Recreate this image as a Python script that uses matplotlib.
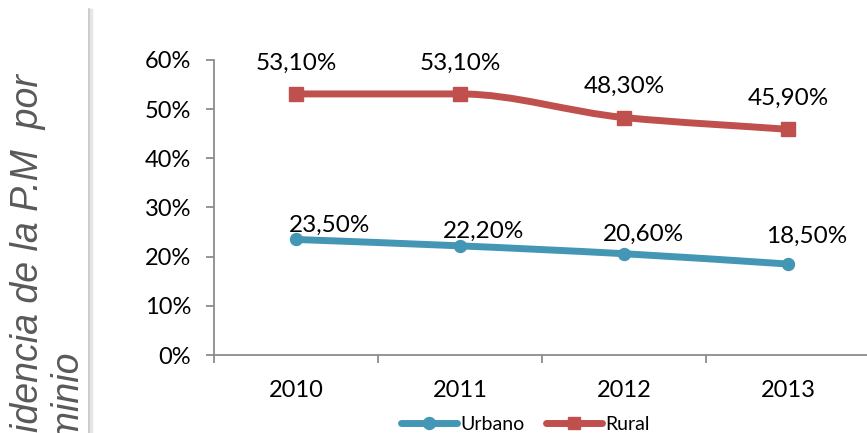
import matplotlib
matplotlib.use("Agg")
import matplotlib.pyplot as plt
from matplotlib.lines import Line2D
from matplotlib.patches import PathPatch
from matplotlib.path import Path
from matplotlib.ticker import FixedLocator, PercentFormatter
import numpy as np


YEARS = ["2010", "2011", "2012", "2013"]
URBANO = [23.5, 22.2, 20.6, 18.5]
RURAL = [53.1, 53.1, 48.3, 45.9]
URBANO_LABELS = ["23,50%", "22,20%", "20,60%", "18,50%"]
RURAL_LABELS = ["53,10%", "53,10%", "48,30%", "45,90%"]
Y_TICKS = [0, 10, 20, 30, 40, 50, 60]

BLUE = "#4397b5"
RED = "#c0504d"
AXIS_GRAY = "#8c8c8c"
LABEL_FONT = "Lato"


def smooth_path(xs, ys):
    # smoothed line through the points, monotone tangents so flat runs stay flat
    xs = np.asarray(xs, float)
    ys = np.asarray(ys, float)
    h = np.diff(xs)
    d = np.diff(ys) / h
    m = np.zeros_like(ys)
    m[0], m[-1] = d[0], d[-1]
    for i in range(1, len(ys) - 1):
        if d[i - 1] * d[i] > 0:
            m[i] = 2 / (1 / d[i - 1] + 1 / d[i])
    verts = [(xs[0], ys[0])]
    codes = [Path.MOVETO]
    for i in range(len(xs) - 1):
        verts += [(xs[i] + h[i] / 3, ys[i] + m[i] * h[i] / 3),
                  (xs[i + 1] - h[i] / 3, ys[i + 1] - m[i + 1] * h[i] / 3),
                  (xs[i + 1], ys[i + 1])]
        codes += [Path.CURVE4] * 3
    return Path(verts, codes)


fig = plt.figure(figsize=(8.67, 4.33), dpi=100)
ax = fig.add_axes([214 / 867, 78 / 433, 656 / 867, 295 / 433])
x = np.arange(len(YEARS))

for vals, color, marker, ms in [(URBANO, BLUE, "o", 8.6), (RURAL, RED, "s", 10.5)]:
    ax.add_patch(PathPatch(smooth_path(x, vals), fill=False, edgecolor=color, lw=5,
                           capstyle="round", joinstyle="round", zorder=3))
    ax.plot(x, vals, linestyle="none", marker=marker, markersize=ms, color=color, zorder=4)

# data labels
rural_off = [(0, 17.6)] * 4
urbano_off = [(24.5, 5.8), (17.3, 5.8), (14.4, 9.4), (13.7, 15.1)]
for vals, labels, offs in [(RURAL, RURAL_LABELS, rural_off), (URBANO, URBANO_LABELS, urbano_off)]:
    for xi, v, lab, off in zip(x, vals, labels, offs):
        ax.annotate(lab, (xi, v), xytext=off, textcoords="offset points", ha="center",
                    va="baseline", fontsize=17.5, family=LABEL_FONT, color="black")

ax.set_xlim(-0.5, 3.5)
ax.set_ylim(0, 60)
ax.yaxis.set_major_locator(FixedLocator(Y_TICKS))
ax.yaxis.set_major_formatter(PercentFormatter(decimals=0))
ax.set_xticks(x)
ax.set_xticklabels(YEARS)
ax.set_xticks(np.arange(-0.5, 4.0, 1.0), minor=True)
ax.tick_params(axis="x", which="major", length=0, pad=18)
ax.tick_params(axis="x", which="minor", length=6, width=1.3, color=AXIS_GRAY, direction="out")
ax.tick_params(axis="y", length=5.5, width=1.3, color=AXIS_GRAY, direction="out", pad=11)
for lab in ax.get_xticklabels() + ax.get_yticklabels():
    lab.set_fontfamily(LABEL_FONT)
    lab.set_fontsize(17)

for side in ["top", "right"]:
    ax.spines[side].set_visible(False)
for side in ["left", "bottom"]:
    ax.spines[side].set_color(AXIS_GRAY)
    ax.spines[side].set_linewidth(1.3)
ax.set_facecolor("none")

# rotated axis title, clipped at the left edge like the source
fig.text(10 / 867, -0.113, "Incidencia de la P.M  por\ndominio", rotation=90, ha="left",
         va="bottom", multialignment="left", fontsize=27, style="italic",
         family="Liberation Sans", color="#595959", linespacing=1.15)

# separator line with a soft shadow
fig.add_artist(Line2D([91 / 867, 91 / 867], [0, 1 - 10 / 433], transform=fig.transFigure,
                      color="#e6e6e6", lw=2.5))
fig.add_artist(Line2D([89 / 867, 89 / 867], [0, 1 - 9 / 433], transform=fig.transFigure,
                      color="#c4c4c4", lw=1.2))

handles = [
    Line2D([], [], color=BLUE, lw=5, marker="o", markersize=8.6, solid_capstyle="round"),
    Line2D([], [], color=RED, lw=5, marker="s", markersize=8.6, solid_capstyle="round"),
]
fig.legend(handles, ["Urbano", "Rural"], loc="center", bbox_to_anchor=(525 / 867, 9 / 433),
           ncol=2, frameon=False, handlelength=2.9, handletextpad=0.15, columnspacing=1.1,
           borderpad=0, prop={"family": LABEL_FONT, "size": 14})

fig.savefig("out.png", dpi=100)
